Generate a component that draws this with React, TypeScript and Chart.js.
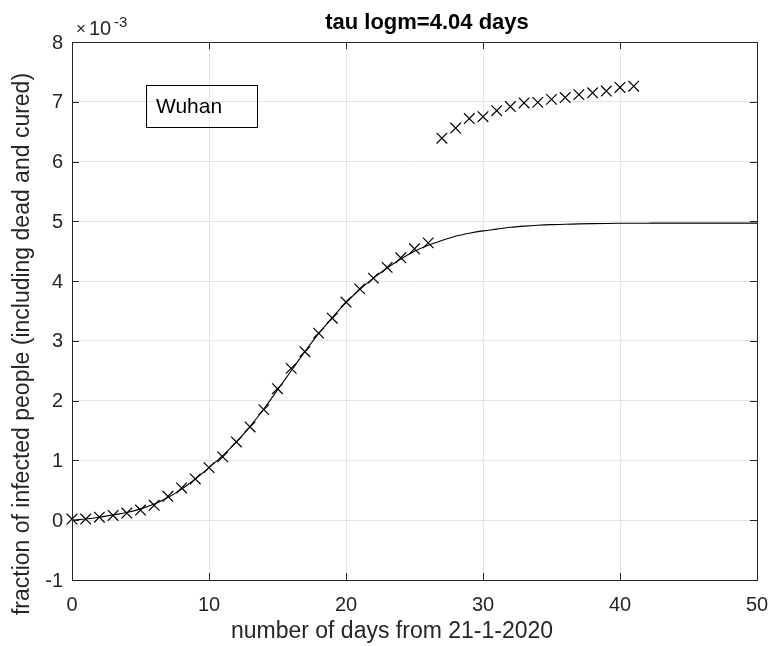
import React, { useEffect, useRef } from "react";
import { Chart, registerables } from "chart.js";

Chart.register(...registerables);

const observedDays = [0,1,2,3,4,5,6,7,8,9,10,11,12,13,14,15,16,17,18,19,20,21,22,23,24,25,26,27,28,29,30,31,32,33,34,35,36,37,38,39,40,41];
// values in units of 1e-3
const observedE3 = [0.02,0.02,0.05,0.08,0.12,0.17,0.25,0.40,0.54,0.69,0.88,1.06,1.31,1.56,1.85,2.20,2.54,2.82,3.13,3.38,3.65,3.87,4.05,4.23,4.39,4.54,4.64,6.39,6.56,6.72,6.75,6.85,6.92,6.98,6.99,7.04,7.07,7.12,7.15,7.18,7.24,7.26];

const fitDays = [0,1,2,3,4,5,6,7,8,9,10,11,12,13,14,15,16,17,18,19,20,21,22,23,24,25,26,27,28,29,30,31,32,33,34,35,36,37,38,39,40,41,42,43,44,45,46,47,48,49,50];
const fitE3 = [0.00,0.02,0.05,0.09,0.13,0.19,0.27,0.38,0.52,0.69,0.88,1.08,1.31,1.57,1.86,2.18,2.50,2.82,3.12,3.39,3.64,3.86,4.05,4.22,4.37,4.50,4.60,4.68,4.75,4.80,4.84,4.87,4.90,4.92,4.935,4.945,4.95,4.957,4.962,4.965,4.967,4.968,4.969,4.970,4.970,4.970,4.970,4.970,4.970,4.970,4.970];

const xTicks = [0, 10, 20, 30, 40, 50];
const yTicks = [-1, 0, 1, 2, 3, 4, 5, 6, 7, 8];

const titleText = "tau logm=4.04 days";
const xLabel = "number of days from 21-1-2020";
const yLabel = "fraction of infected people (including dead and cured)";
const legendText = "Wuhan";

const FONT = "'Liberation Sans', Arial, Helvetica, sans-serif";
const AXIS_COLOR = "#262626";

const decorPlugin = {
  id: "decor",
  afterDraw(chart: any) {
    const { ctx, chartArea: a, scales } = chart;
    const xs = scales.x, ys = scales.y;
    ctx.save();
    // box
    ctx.strokeStyle = AXIS_COLOR;
    ctx.lineWidth = 1;
    ctx.strokeRect(Math.round(a.left) + 0.5, Math.round(a.top) + 0.5, Math.round(a.right - a.left), Math.round(a.bottom - a.top));
    // inner ticks
    const tl = 7;
    ctx.beginPath();
    xTicks.forEach((v) => {
      const px = Math.round(xs.getPixelForValue(v)) + 0.5;
      ctx.moveTo(px, a.bottom); ctx.lineTo(px, a.bottom - tl);
      ctx.moveTo(px, a.top); ctx.lineTo(px, a.top + tl);
    });
    yTicks.forEach((v) => {
      const py = Math.round(ys.getPixelForValue(v)) + 0.5;
      ctx.moveTo(a.left, py); ctx.lineTo(a.left + tl, py);
      ctx.moveTo(a.right, py); ctx.lineTo(a.right - tl, py);
    });
    ctx.stroke();

    // tick labels
    ctx.fillStyle = AXIS_COLOR;
    ctx.font = `20px ${FONT}`;
    ctx.textBaseline = "middle";
    ctx.textAlign = "center";
    xTicks.forEach((v) => {
      ctx.fillText(String(v), xs.getPixelForValue(v), 605);
    });
    ctx.textAlign = "right";
    yTicks.forEach((v) => {
      ctx.fillText(String(v), a.left - 9, ys.getPixelForValue(v) + 1);
    });

    // title
    ctx.fillStyle = "#000";
    ctx.font = `bold 22px ${FONT}`;
    ctx.textAlign = "center";
    ctx.textBaseline = "middle";
    ctx.fillText(titleText, 427, 23);

    // x label
    ctx.fillStyle = AXIS_COLOR;
    ctx.font = `23px ${FONT}`;
    ctx.fillText(xLabel, 392, 632);

    // y label
    ctx.save();
    ctx.translate(23, 344);
    ctx.rotate(-Math.PI / 2);
    ctx.fillText(yLabel, 0, 0);
    ctx.restore();

    // exponent
    ctx.textAlign = "left";
    ctx.textBaseline = "alphabetic";
    ctx.font = `17px ${FONT}`;
    ctx.fillText("\u00d7", 76, 34);
    ctx.font = `20px ${FONT}`;
    ctx.fillText("10", 89, 35);
    ctx.font = `15px ${FONT}`;
    ctx.fillText("-3", 114, 27);

    // legend box
    ctx.strokeStyle = "#000";
    ctx.lineWidth = 1;
    ctx.strokeRect(146.5, 85.5, 111, 42);
    ctx.fillStyle = "#000";
    ctx.font = `21px ${FONT}`;
    ctx.fillText(legendText, 156, 113);
    ctx.restore();
  },
};

export default function App() {
  const ref = useRef<HTMLCanvasElement>(null);
  useEffect(() => {
    if (!ref.current) return;
    const chart = new Chart(ref.current, {
      type: "line",
      data: {
        datasets: [
          {
            label: "fit",
            data: fitDays.map((d, i) => ({ x: d, y: fitE3[i] })),
            borderColor: "#000",
            borderWidth: 1.1,
            pointRadius: 0,
            tension: 0.4,
            cubicInterpolationMode: "monotone",
            fill: false,
          } as any,
          {
            label: legendText,
            data: observedDays.map((d, i) => ({ x: d, y: observedE3[i] })),
            showLine: false,
            pointStyle: "crossRot",
            pointRadius: 7.5,
            pointBorderWidth: 1.2,
            pointBorderColor: "#000",
            borderColor: "#000",
            clip: false,
          } as any,
        ],
      },
      plugins: [decorPlugin],
      options: {
        animation: false,
        responsive: false,
        events: [],
        layout: { padding: { left: 72, right: 14, top: 42, bottom: 66 } },
        plugins: { legend: { display: false }, title: { display: false }, tooltip: { enabled: false } },
        scales: {
          x: {
            type: "linear",
            min: 0,
            max: 50,
            afterFit: (s: any) => { s.height = 0; s.paddingLeft = 0; s.paddingRight = 0; },
            afterBuildTicks: (s: any) => { s.ticks = xTicks.map((v) => ({ value: v })); },
            border: { display: false },
            grid: { color: "#e3e3e3", drawTicks: false },
            ticks: { display: false },
          },
          y: {
            type: "linear",
            min: -1,
            max: 8,
            afterFit: (s: any) => { s.width = 0; s.paddingTop = 0; s.paddingBottom = 0; },
            afterBuildTicks: (s: any) => { s.ticks = yTicks.map((v) => ({ value: v })); },
            border: { display: false },
            grid: { color: "#e3e3e3", drawTicks: false },
            ticks: { display: false },
          },
        },
      } as any,
    });
    return () => chart.destroy();
  }, []);
  return (
    <div style={{ position: "fixed", left: 0, top: 0, width: 771, height: 646, background: "#fff" }}>
      <canvas ref={ref} width={771} height={646} style={{ width: 771, height: 646, display: "block" }} />
    </div>
  );
}
